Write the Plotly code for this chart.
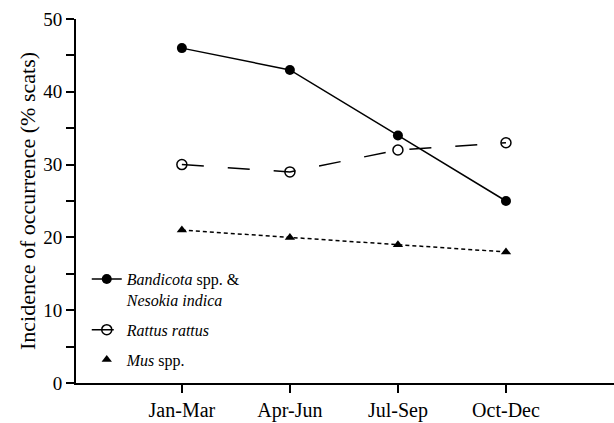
import plotly.graph_objects as go

quarters = ["Jan-Mar", "Apr-Jun", "Jul-Sep", "Oct-Dec"]
tick_text = ["Jan-Mar", "Apr-Jun", "Jul-Sep", "Oct-Dec"]
bandicota = [46, 43, 34, 25]
rattus = [30, 29, 32, 33]
mus = [21, 20, 19, 18]
xi = list(range(len(quarters)))

FONT = "Liberation Serif, Times New Roman, serif"

fig = go.Figure()
fig.add_trace(go.Scatter(
    x=xi, y=bandicota, mode="lines+markers", legendgroup="a",
    name="<i>Bandicota</i> spp. &<br><i>Nesokia indica</i>",
    line=dict(color="black", width=1.5),
    marker=dict(symbol="circle", size=10, color="black"),
))
fig.add_trace(go.Scatter(
    x=xi, y=rattus, mode="lines+markers", legendgroup="b",
    name="<i>Rattus rattus</i>",
    line=dict(color="black", width=1.5, dash="22px,24px"),
    marker=dict(symbol="circle-open", size=10, color="black", line=dict(width=1.5)),
))
fig.add_trace(go.Scatter(
    x=xi, y=mus, mode="lines+markers", legendgroup="c",
    name="<i>Mus</i> spp.", showlegend=False,
    line=dict(color="black", width=1.5, dash="4px,3px"),
    marker=dict(symbol="triangle-up", size=9, color="black"),
))
# legend entry for Mus (marker only, as in the original key)
fig.add_trace(go.Scatter(
    x=[None], y=[None], mode="markers", name="<i>Mus</i> spp.", legendgroup="c",
    marker=dict(symbol="triangle-up", size=9, color="black"),
))

fig.update_layout(
    width=614, height=423,
    margin=dict(l=76, r=0, t=19, b=40),
    paper_bgcolor="white", plot_bgcolor="white",
    font=dict(family=FONT, color="black", size=16),
    showlegend=True,
    legend=dict(x=0.02, y=0.332, xanchor="left", yanchor="top", valign="top",
                bgcolor="rgba(0,0,0,0)", font=dict(size=16, family=FONT),
                tracegroupgap=6, itemwidth=30),
    xaxis=dict(range=[-0.98, 4.0], tickmode="array", tickvals=xi, ticktext=tick_text,
               showline=True, linecolor="black", linewidth=2, showgrid=False,
               zeroline=False, ticks="outside", ticklen=8, tickwidth=2,
               tickcolor="black", tickfont=dict(size=20, family=FONT), automargin=False),
    yaxis=dict(range=[0, 50], tickvals=[0, 10, 20, 30, 40, 50],
               showline=True, linecolor="black", linewidth=2, showgrid=False,
               zeroline=False, ticks="outside", ticklen=8, tickwidth=2,
               tickcolor="black", tickfont=dict(size=19, family=FONT), automargin=False,
               minor=dict(tickvals=[5, 15, 25, 35, 45], ticks="outside",
                          ticklen=8, tickwidth=2, tickcolor="black"),
               title=dict(text="Incidence of occurrence (% scats)",
                          font=dict(size=22, family=FONT), standoff=2)),
)

fig.write_html(
    "out.html",
    config={"displayModeBar": False},
    post_script="document.body.style.margin='0';document.body.style.overflow='hidden';",
)
